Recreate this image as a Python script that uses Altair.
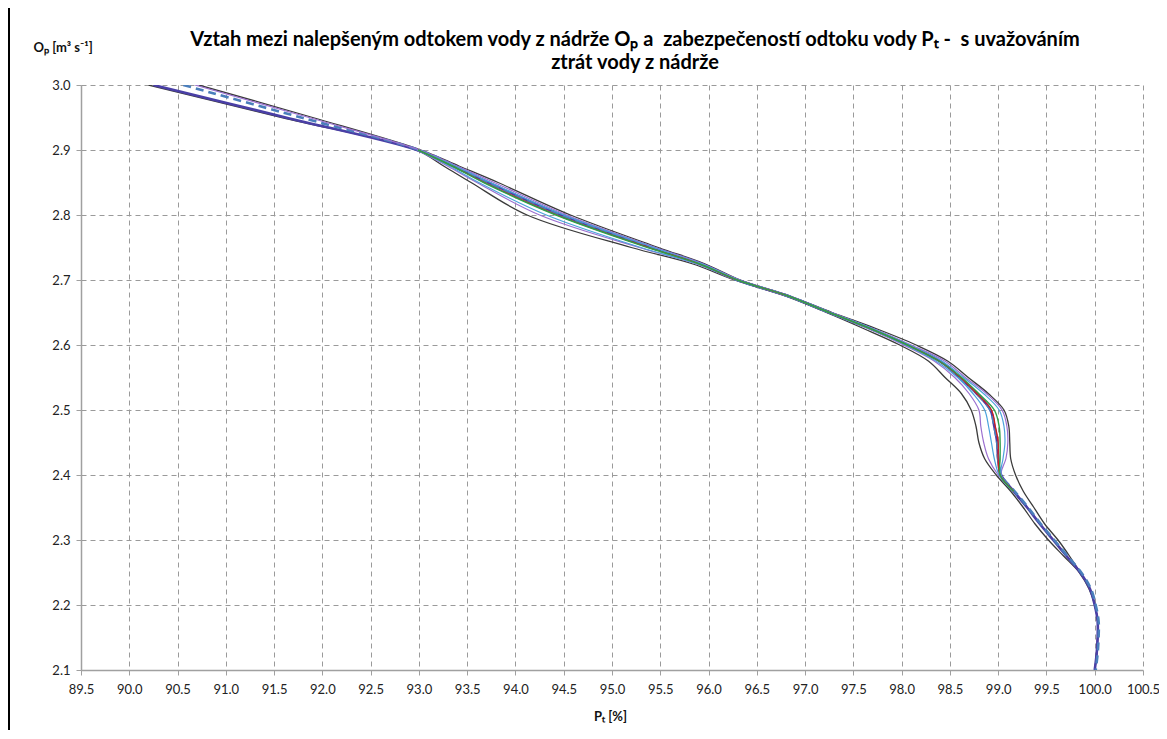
import altair as alt
import pandas as pd

# ---- data ----
O_LEVELS = [3.0, 2.95, 2.9, 2.875, 2.85, 2.8, 2.75, 2.725, 2.7, 2.675, 2.65, 2.625,
            2.6, 2.575, 2.55, 2.525, 2.5, 2.475, 2.45, 2.425, 2.4, 2.375, 2.35,
            2.325, 2.3, 2.275, 2.25, 2.225, 2.2, 2.175, 2.15, 2.125, 2.1]

P_BLACK_LO = [90.20, 91.58, 92.97, 93.26, 93.54, 94.12, 95.20, 95.83, 96.27, 96.80, 97.22, 97.61,
              97.98, 98.28, 98.45, 98.62, 98.72, 98.77, 98.80, 98.86, 98.98, 99.13, 99.26,
              99.38, 99.52, 99.68, 99.84, 99.94, 100.00, 100.03, 100.03, 100.02, 100.00]
P_BLACK_HI = [90.72, 91.90, 93.02, 93.42, 93.82, 94.57, 95.48, 95.96, 96.33, 96.85, 97.28, 97.74,
              98.15, 98.48, 98.69, 98.90, 99.06, 99.11, 99.12, 99.13, 99.18, 99.26, 99.37,
              99.48, 99.62, 99.74, 99.85, 99.95, 100.00, 100.03, 100.03, 100.02, 100.00]
P_MAIN = [90.25, 91.62, 92.98, 93.36, 93.72, 94.48, 95.42, 95.92, 96.30, 96.83, 97.25, 97.68,
          98.06, 98.40, 98.60, 98.78, 98.92, 98.96, 98.99, 99.00, 99.03, 99.16, 99.30,
          99.43, 99.57, 99.71, 99.85, 99.95, 100.00, 100.03, 100.03, 100.02, 100.00]
P_DASHED = [90.56, 91.78, 93.00, 93.38, 93.70, 94.45, 95.40, 95.90, 96.30, 96.83, 97.25, 97.68,
            98.06, 98.40, 98.60, 98.78, 98.92, 98.96, 98.99, 99.00, 99.03, 99.17, 99.31,
            99.44, 99.58, 99.72, 99.86, 99.96, 100.01, 100.04, 100.04, 100.03, 100.01]
P_PURPLE_HI = [90.68, 91.86, 93.01, 93.40, 93.78, 94.53, 95.45, 95.94, 96.32, 96.84, 97.27, 97.71,
               98.10, 98.45, 98.66, 98.88, 99.04, 99.09, 99.10, 99.08, 99.03, 99.16, None,
               None, None, None, None, None, None, None, None, None, None]
P_PURPLE_LO = [None, None, 92.98, 93.30, 93.60, 94.25, 95.28, 95.87, 96.29, 96.82, 97.24, 97.66,
               98.02, 98.34, 98.55, 98.70, 98.80, 98.82, 98.85, 98.90, 99.00, 99.15, None,
               None, None, None, None, None, None, None, None, None, None]
P_CYAN_HI = [None, None, 93.00, 93.38, 93.74, 94.50, 95.43, 95.93, 96.31, 96.84, 97.26, 97.70,
             98.08, 98.42, 98.64, 98.85, 99.01, 99.06, 99.07, 99.05, 99.03, 99.16, None,
             None, None, None, None, None, None, None, None, None, None]
P_CYAN_LO = [None, None, 92.98, 93.32, 93.62, 94.32, 95.30, 95.88, 96.29, 96.82, 97.24, 97.67,
             98.04, 98.36, 98.58, 98.74, 98.86, 98.90, 98.93, 98.96, 99.01, 99.15, None,
             None, None, None, None, None, None, None, None, None, None]
P_GREEN = [None, None, 92.99, 93.35, 93.67, 94.42, 95.37, 95.90, 96.30, 96.83, 97.25, 97.68,
           98.06, 98.39, 98.62, 98.80, 98.96, 99.01, 99.02, 99.02, 99.02, 99.16, None,
           None, None, None, None, None, None, None, None, None, None]
P_RED = [None, None, 92.99, 93.35, 93.68, 94.43, 95.38, 95.90, 96.30, 96.83, 97.25, 97.68,
         98.06, 98.39, 98.61, 98.78, 98.93, 98.97, 99.00, 99.00, 99.02, 99.16, None,
         None, None, None, None, None, None, None, None, None, None]

X_TICKS = [89.5, 90.0, 90.5, 91.0, 91.5, 92.0, 92.5, 93.0, 93.5, 94.0, 94.5, 95.0,
           95.5, 96.0, 96.5, 97.0, 97.5, 98.0, 98.5, 99.0, 99.5, 100.0, 100.5]
Y_TICKS = [2.1, 2.2, 2.3, 2.4, 2.5, 2.6, 2.7, 2.8, 2.9, 3.0]

TITLE_1 = ("Vztah mezi nalepšeným odtokem vody z nádrže Oₚ a\u00a0 zabezpečeností "
           "odtoku vody Pₜ -\u00a0 s uvažováním")
TITLE_2 = "ztrát vody z nádrže"
Y_TITLE = "Oₚ [m³ s⁻¹]"
X_TITLE = "Pₜ [%]"

SERIES = {
    "black_lo": P_BLACK_LO, "black_hi": P_BLACK_HI, "main": P_MAIN, "dashed": P_DASHED,
    "purple_lo": P_PURPLE_LO, "purple_hi": P_PURPLE_HI, "cyan_lo": P_CYAN_LO,
    "cyan_hi": P_CYAN_HI, "red": P_RED, "green": P_GREEN,
}

# drawing order and style
STYLES = [
    ("black_lo", "#3a3a3a", 1.3, None),
    ("black_hi", "#3a3a3a", 1.3, None),
    ("main", "#4a3fa6", 2.6, None),
    ("dashed", "#4a7ebb", 2.6, [8, 5]),
    ("purple_lo", "#9b6fd0", 1.2, None),
    ("purple_hi", "#9b6fd0", 1.2, None),
    ("cyan_lo", "#4aa3dc", 1.2, None),
    ("cyan_hi", "#4aa3dc", 1.2, None),
    ("red", "#d01e1e", 1.3, None),
    ("green", "#2e9e48", 1.4, None),
]

rows = []
for name, vals in SERIES.items():
    for i, (o, p) in enumerate(zip(O_LEVELS, vals)):
        if p is not None:
            rows.append({"series": name, "idx": i, "O": o, "P": p})
df = pd.DataFrame(rows)

FONT = "Lato"

X = alt.X("P:Q", scale=alt.Scale(domain=[89.5, 100.5], nice=False, zero=False),
          axis=alt.Axis(values=X_TICKS, format=".1f", title=X_TITLE, labelFlush=False,
                        labelOverlap=False, titleX=529, titleY=46, titleBaseline="middle",
                        labelPadding=8))
Y = alt.Y("O:Q", scale=alt.Scale(domain=[2.1, 3.0], nice=False, zero=False),
          axis=alt.Axis(values=Y_TICKS, format=".1f", title=Y_TITLE, titleAngle=0,
                        titleAlign="left", titleX=-48, titleY=-38, titleBaseline="middle",
                        labelOverlap=False, labelPadding=6))

layers = []
for name, color, width, dash in STYLES:
    kw = dict(color=color, strokeWidth=width, interpolate="catmull-rom", clip=True)
    if dash:
        kw["strokeDash"] = dash
    layers.append(
        alt.Chart(df).transform_filter(alt.datum.series == name)
        .mark_line(**kw)
        .encode(x=X, y=Y, order=alt.Order("idx:Q"))
    )

one = pd.DataFrame({"k": [0]})
title1 = alt.Chart(one).mark_text(font=FONT, fontSize=20, fontWeight="bold", color="black",
                                  align="center", baseline="middle").encode(
    x=alt.value(554), y=alt.value(-45), text=alt.value(TITLE_1))
title2 = alt.Chart(one).mark_text(font=FONT, fontSize=20, fontWeight="bold", color="black",
                                  align="center", baseline="middle").encode(
    x=alt.value(554), y=alt.value(-22), text=alt.value(TITLE_2))
border = alt.Chart(one).mark_rule(color="black", strokeWidth=2).encode(
    x=alt.value(-72), y=alt.value(-80), y2=alt.value(650))

chart = alt.layer(*layers, title1, title2, border).properties(
    width=1062, height=585,
    autosize=alt.AutoSizeParams(type="none"),
    padding={"left": 73, "top": 77, "right": 16, "bottom": 60},
).configure_axis(
    grid=True, gridDash=[5, 4], gridColor="#9a9a9a", gridWidth=1,
    domainColor="#a0a0a0", domainWidth=1.5, tickColor="#a0a0a0", tickSize=5,
    labelFont=FONT, labelFontSize=13, labelColor="#222222",
    titleFont=FONT, titleFontSize=13, titleFontWeight="bold", titleColor="#111111",
).configure_view(stroke=None)

chart.save("out.html", embed_options={"renderer": "svg", "actions": False})
